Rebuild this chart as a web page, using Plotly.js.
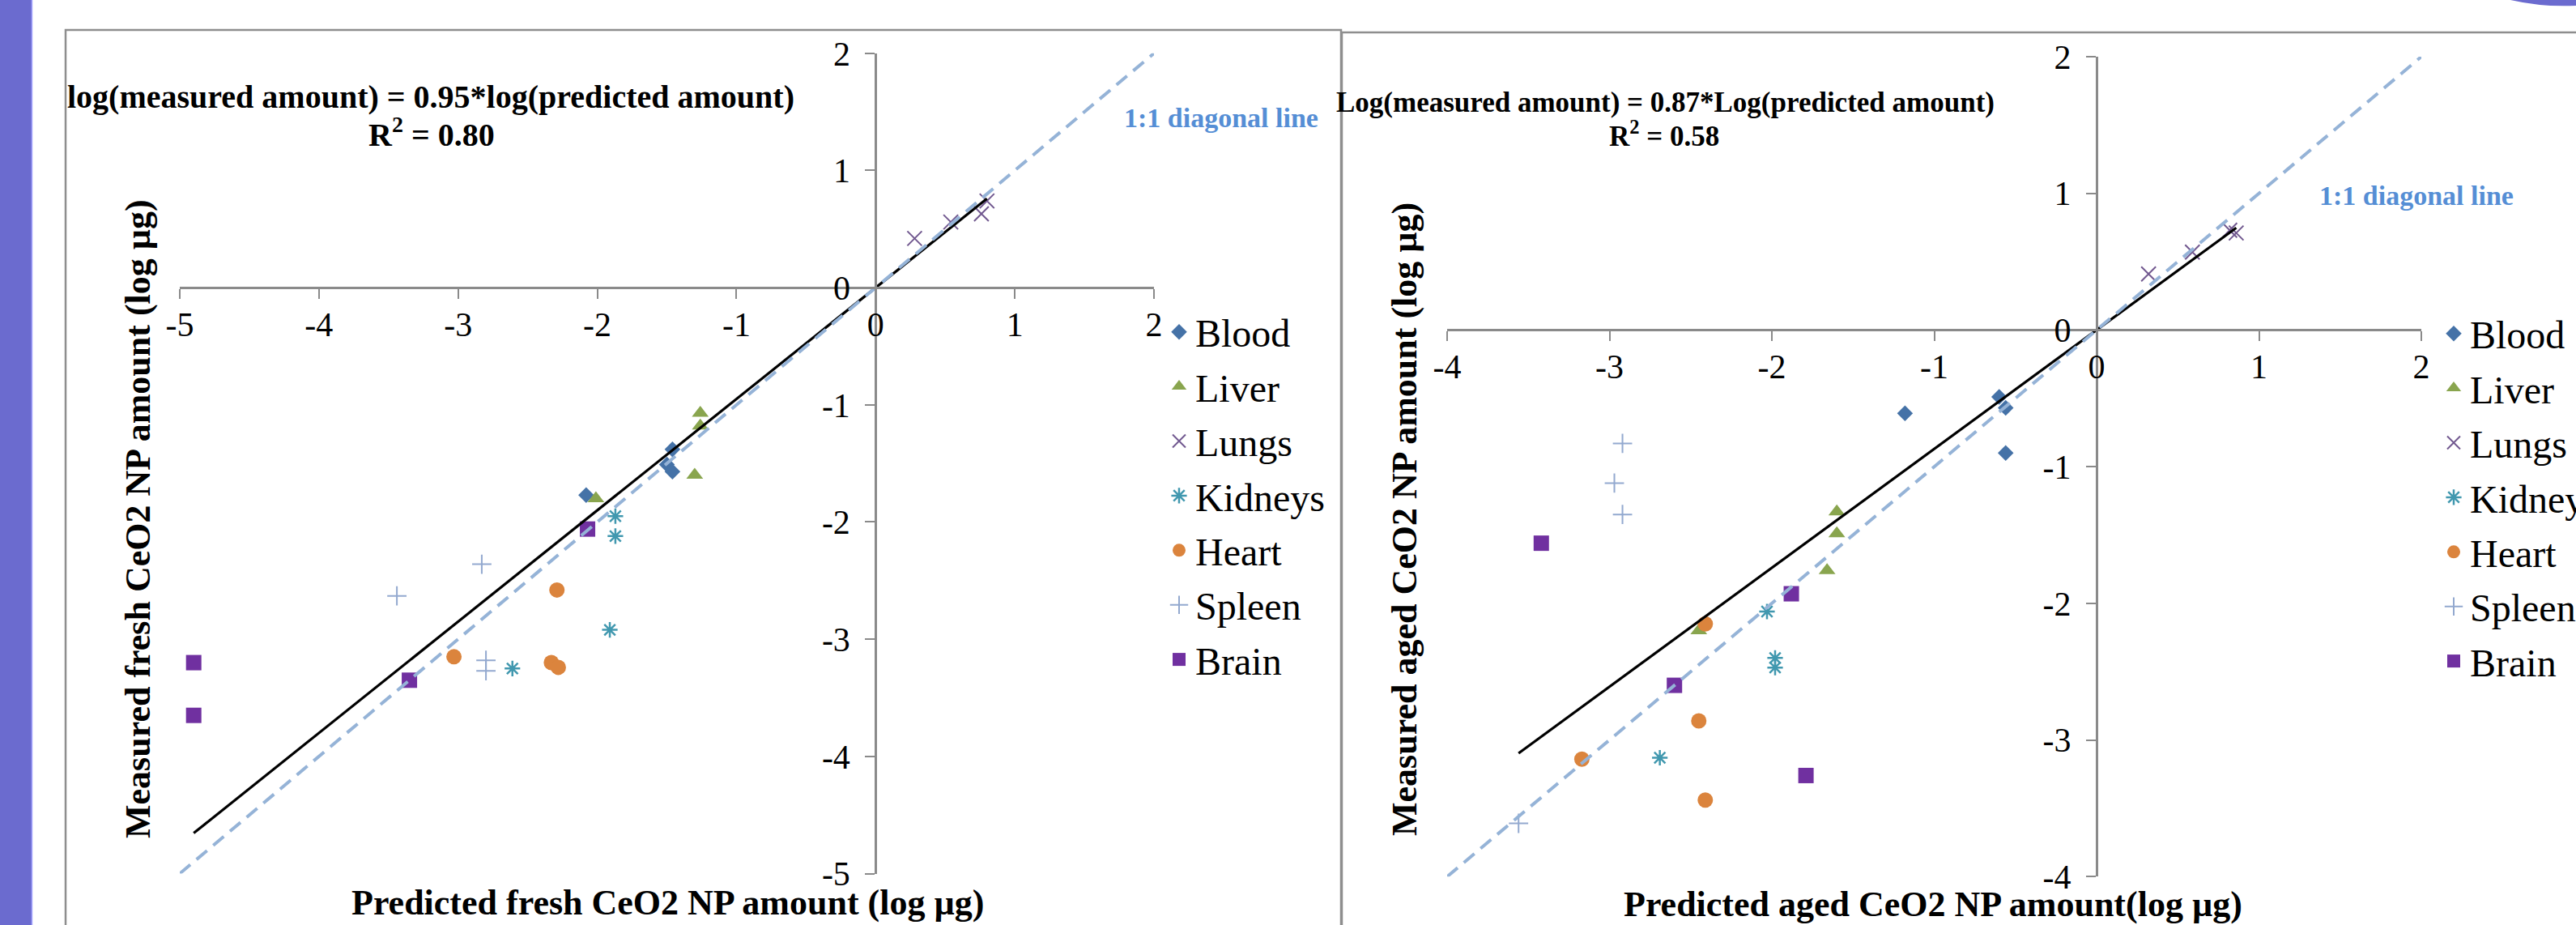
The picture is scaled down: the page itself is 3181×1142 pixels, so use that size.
<!DOCTYPE html>
<html><head><meta charset="utf-8">
<script src="https://cdn.plot.ly/plotly-3.0.1.min.js"></script>
<style>html,body{margin:0;padding:0;background:#fff;overflow:hidden;} #chart{width:3181px;height:1142px;}</style>
</head><body><div id="chart"></div>
<script>
// ---------- DATA (log µg) ----------
const organs = ['Blood','Liver','Lungs','Kidneys','Heart','Spleen','Brain'];

// Fresh CeO2 NP: predicted (x) vs measured (y)
const freshBloodX   = [-1.46, -1.50, -1.46, -2.08];
const freshBloodY   = [-1.38, -1.51, -1.57, -1.77];
const freshLiverX   = [-1.26, -1.26, -1.30, -2.01];
const freshLiverY   = [-1.07, -1.18, -1.60, -1.80];
const freshLungsX   = [0.28, 0.54, 0.76, 0.80];
const freshLungsY   = [0.42, 0.56, 0.63, 0.74];
const freshKidneysX = [-1.87, -1.87, -1.91, -2.61];
const freshKidneysY = [-1.95, -2.12, -2.92, -3.25];
const freshHeartX   = [-2.29, -3.03, -2.33, -2.28];
const freshHeartY   = [-2.58, -3.15, -3.20, -3.24];
const freshSpleenX  = [-2.83, -3.44, -2.80, -2.80];
const freshSpleenY  = [-2.36, -2.63, -3.18, -3.27];
const freshBrainX   = [-2.07, -3.35, -4.90, -4.90];
const freshBrainY   = [-2.06, -3.35, -3.20, -3.65];

// Aged CeO2 NP: predicted (x) vs measured (y)
const agedBloodX   = [-1.18, -0.60, -0.56, -0.56];
const agedBloodY   = [-0.61, -0.49, -0.57, -0.90];
const agedLiverX   = [-1.60, -1.60, -1.66, -2.45];
const agedLiverY   = [-1.33, -1.49, -1.76, -2.20];
const agedLungsX   = [0.32, 0.59, 0.82, 0.86];
const agedLungsY   = [0.41, 0.57, 0.73, 0.71];
const agedKidneysX = [-2.03, -1.98, -1.98, -2.69];
const agedKidneysY = [-2.06, -2.40, -2.47, -3.13];
const agedHeartX   = [-2.41, -2.45, -3.17, -2.41];
const agedHeartY   = [-2.15, -2.86, -3.14, -3.44];
const agedSpleenX  = [-2.92, -2.97, -2.92, -3.56];
const agedSpleenY  = [-0.83, -1.12, -1.35, -3.61];
const agedBrainX   = [-3.42, -1.88, -2.60, -1.79];
const agedBrainY   = [-1.56, -1.93, -2.60, -3.26];

// Fitted slopes and text
const freshSlope = 0.95, agedSlope = 0.87;
const freshR2 = '0.80', agedR2 = '0.58';
const freshRange = [-5, 2];
const agedRange = [-4, 2];
const freshTickVals = [-5, -4, -3, -2, -1, 0, 1, 2];
const freshTickText = ['-5', '-4', '-3', '-2', '-1', '0', '1', '2'];
const agedTickVals = [-4, -3, -2, -1, 0, 1, 2];
const agedTickText = ['-4', '-3', '-2', '-1', '0', '1', '2'];

// ---------- STYLE ----------
const W = 3181, H = 1142;
const px = v => v / W;
const py = v => 1 - v / H;
const FONT = 'Liberation Serif, Times New Roman, serif';
const styles = {
  Blood:   {symbol: 'diamond', color: '#4572A7', size: 15},
  Liver:   {symbol: 'triangle-up', color: '#89A54E', size: 18},
  Lungs:   {symbol: 'x-thin', color: '#71588F', size: 18, line: 2},
  Kidneys: {symbol: 'asterisk', color: '#4198AF', size: 16, line: 2.5},
  Heart:   {symbol: 'circle', color: '#DB843D', size: 19},
  Spleen:  {symbol: 'cross-thin', color: '#93A9CF', size: 17, line: 2},
  Brain:   {symbol: 'square', color: '#7030A0', size: 19}
};

const freshData = {
  Blood: [freshBloodX, freshBloodY], Liver: [freshLiverX, freshLiverY],
  Lungs: [freshLungsX, freshLungsY], Kidneys: [freshKidneysX, freshKidneysY],
  Heart: [freshHeartX, freshHeartY], Spleen: [freshSpleenX, freshSpleenY],
  Brain: [freshBrainX, freshBrainY]
};
const agedData = {
  Blood: [agedBloodX, agedBloodY], Liver: [agedLiverX, agedLiverY],
  Lungs: [agedLungsX, agedLungsY], Kidneys: [agedKidneysX, agedKidneysY],
  Heart: [agedHeartX, agedHeartY], Spleen: [agedSpleenX, agedSpleenY],
  Brain: [agedBrainX, agedBrainY]
};

function markerTraces(data, xa, ya, legend, grp) {
  return organs.map(o => {
    const s = styles[o];
    const m = {symbol: s.symbol, size: s.size, color: s.color};
    if (s.line) m.line = {color: s.color, width: s.line};
    else m.line = {width: 0};
    return {
      type: 'scatter', mode: 'markers', name: o,
      x: data[o][0], y: data[o][1], xaxis: xa, yaxis: ya,
      marker: m, legend: legend, legendgroup: grp + o, cliponaxis: false
    };
  });
}
function lineTraces(data, slope, rng, xa, ya) {
  let allX = [];
  organs.forEach(o => { allX = allX.concat(data[o][0]); });
  const xmin = Math.min(...allX), xmax = Math.max(...allX);
  return [
    {type: 'scatter', mode: 'lines', x: [xmin, xmax], y: [slope * xmin, slope * xmax],
     xaxis: xa, yaxis: ya, showlegend: false, line: {color: '#000', width: 3.2}, hoverinfo: 'skip'},
    {type: 'scatter', mode: 'lines', x: rng, y: rng,
     xaxis: xa, yaxis: ya, showlegend: false, line: {color: '#95B3D7', width: 4, dash: '17px,10px'}, hoverinfo: 'skip'}
  ];
}

const traces = [].concat(
  markerTraces(freshData, 'x', 'y', 'legend', 'f'),
  lineTraces(freshData, freshSlope, freshRange, 'x', 'y'),
  markerTraces(agedData, 'x2', 'y2', 'legend2', 'a'),
  lineTraces(agedData, agedSlope, agedRange, 'x2', 'y2')
);

const xd1 = [px(222), px(1425)], yd1 = [py(1078.5), py(65.8)];
const xd2 = [px(1787), px(2990)], yd2 = [py(1082.3), py(70)];
const zeroPos = (dom, rng) => dom[0] + (0 - rng[0]) / (rng[1] - rng[0]) * (dom[1] - dom[0]);

function axis(dom, rng, pos, vals, text, isX) {
  return {
    domain: dom, range: rng, anchor: 'free', position: pos,
    showline: true, linecolor: '#8A8A8A', linewidth: 2.5,
    ticks: 'outside', ticklen: 12, tickwidth: 2, tickcolor: '#8A8A8A',
    tickvals: vals, ticktext: text, showgrid: false, zeroline: false,
    tickfont: {family: FONT, size: 42, color: '#000'},
    ticklabelstandoff: isX ? -4 : 10, automargin: false, fixedrange: true
  };
}

const ann = (text, x, y, size, opts) => Object.assign({
  text: text, xref: 'paper', yref: 'paper', x: px(x), y: py(y),
  xanchor: 'center', yanchor: 'middle', showarrow: false,
  font: {family: FONT, size: size, color: '#000', weight: 'bold'}
}, opts || {});

const layout = {
  width: W, height: H, margin: {l: 0, r: 0, t: 0, b: 0, autoexpand: false},
  paper_bgcolor: '#fff', plot_bgcolor: 'rgba(0,0,0,0)',
  xaxis: axis(xd1, freshRange, zeroPos(yd1, freshRange), freshTickVals, freshTickText, true),
  yaxis: axis(yd1, freshRange, zeroPos(xd1, freshRange), freshTickVals, freshTickText, false),
  xaxis2: axis(xd2, agedRange, zeroPos(yd2, agedRange), agedTickVals, agedTickText, true),
  yaxis2: axis(yd2, agedRange, zeroPos(xd2, agedRange), agedTickVals, agedTickText, false),
  legend: {x: px(1436), y: py(372), xanchor: 'left', yanchor: 'top',
           font: {family: FONT, size: 48, color: '#000'}, bgcolor: 'rgba(0,0,0,0)',
           tracegroupgap: 2, itemsizing: 'trace'},
  legend2: {x: px(3010), y: py(374), xanchor: 'left', yanchor: 'top',
           font: {family: FONT, size: 48, color: '#000'}, bgcolor: 'rgba(0,0,0,0)',
           tracegroupgap: 2, itemsizing: 'trace'},
  shapes: [
    {type: 'rect', xref: 'paper', yref: 'paper', x0: 0, x1: px(39), y0: -0.01, y1: 1.01,
     fillcolor: '#6B6BCF', line: {width: 0}, layer: 'below'},
    {type: 'line', xref: 'paper', yref: 'paper', x0: px(39.5), x1: px(39.5), y0: -0.01, y1: 1.01,
     line: {color: '#A8A8FF', width: 1.5}, layer: 'below'},
    {type: 'rect', xref: 'paper', yref: 'paper', x0: px(81), x1: px(1656), y0: py(1160), y1: py(37),
     line: {color: '#8E8E8E', width: 2.5}, layer: 'below'},
    {type: 'rect', xref: 'paper', yref: 'paper', x0: px(1657), x1: px(3200), y0: py(1160), y1: py(40),
     line: {color: '#8E8E8E', width: 2.5}, layer: 'below'},
    {type: 'path', xref: 'paper', yref: 'paper',
     path: 'M' + px(3100) + ',' + py(0) + ' Q' + px(3140) + ',' + py(9) + ' ' + px(3181) + ',' + py(7) +
           ' L' + px(3181) + ',' + py(0) + ' Z',
     fillcolor: '#6B6BCF', line: {width: 0}}
  ],
  annotations: [
    ann('log(measured amount) = ' + freshSlope.toFixed(2) + '*log(predicted amount)', 532, 119, 40),
    ann('R<sup>2</sup> = ' + freshR2, 533, 163, 40),
    ann('1:1 diagonal line', 1508, 145, 34, {font: {family: FONT, size: 34, color: '#558ED5', weight: 'bold'}}),
    ann('Measured fresh CeO2 NP amount (log µg)', 170, 641, 44, {textangle: -90}),
    ann('Predicted fresh CeO2 NP amount (log µg)', 824, 1114, 44),
    ann('Log(measured amount) = ' + agedSlope.toFixed(2) + '*Log(predicted amount)', 2056, 126, 35),
    ann('R<sup>2</sup> = ' + agedR2, 2055, 165, 35),
    ann('1:1 diagonal line', 2984, 241, 34, {font: {family: FONT, size: 34, color: '#558ED5', weight: 'bold'}}),
    ann('Measured aged CeO2 NP amount (log µg)', 1734, 641, 44, {textangle: -90}),
    ann('Predicted aged CeO2 NP amount(log µg)', 2387, 1116, 44)
  ]
};

Plotly.newPlot('chart', traces, layout, {displayModeBar: false, staticPlot: true});
</script></body></html>
